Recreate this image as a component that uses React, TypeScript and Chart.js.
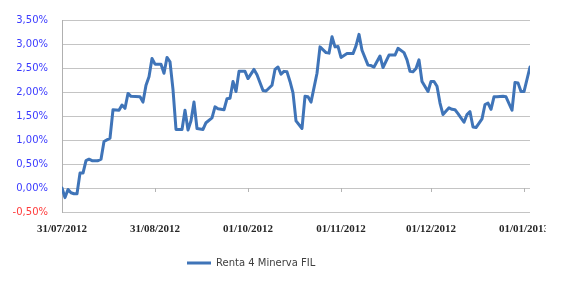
import React, { useEffect, useRef } from 'react';
import { Chart, registerables } from 'chart.js';

Chart.register(...registerables);

const seriesLabel = 'Renta 4 Minerva FIL';

const dates = [
  '31/07/2012', '01/08/2012', '02/08/2012', '03/08/2012', '04/08/2012', '05/08/2012', '06/08/2012',
  '07/08/2012', '08/08/2012', '09/08/2012', '10/08/2012', '12/08/2012', '13/08/2012', '14/08/2012',
  '16/08/2012', '17/08/2012', '19/08/2012', '20/08/2012', '21/08/2012', '22/08/2012', '23/08/2012',
  '26/08/2012', '27/08/2012', '28/08/2012', '29/08/2012', '30/08/2012', '31/08/2012',
  '02/09/2012', '03/09/2012', '04/09/2012', '05/09/2012', '06/09/2012', '07/09/2012', '09/09/2012',
  '10/09/2012', '11/09/2012', '12/09/2012', '13/09/2012', '14/09/2012', '16/09/2012', '17/09/2012',
  '19/09/2012', '20/09/2012', '21/09/2012', '23/09/2012', '24/09/2012', '25/09/2012', '26/09/2012',
  '27/09/2012', '28/09/2012', '30/09/2012',
  '01/10/2012', '03/10/2012', '04/10/2012', '06/10/2012', '07/10/2012', '09/10/2012', '10/10/2012',
  '11/10/2012', '12/10/2012', '13/10/2012', '14/10/2012', '15/10/2012', '16/10/2012', '17/10/2012',
  '19/10/2012', '20/10/2012', '21/10/2012', '22/10/2012', '24/10/2012', '25/10/2012', '27/10/2012',
  '28/10/2012', '29/10/2012', '30/10/2012', '31/10/2012',
  '01/11/2012', '03/11/2012', '05/11/2012', '06/11/2012', '07/11/2012', '08/11/2012', '10/11/2012',
  '11/11/2012', '12/11/2012', '14/11/2012', '15/11/2012', '17/11/2012', '19/11/2012', '20/11/2012',
  '22/11/2012', '23/11/2012', '24/11/2012', '25/11/2012', '26/11/2012', '27/11/2012', '28/11/2012',
  '30/11/2012',
  '01/12/2012', '02/12/2012', '03/12/2012', '04/12/2012', '05/12/2012', '07/12/2012', '08/12/2012',
  '09/12/2012', '10/12/2012', '12/12/2012', '13/12/2012', '14/12/2012', '15/12/2012', '16/12/2012',
  '18/12/2012', '19/12/2012', '20/12/2012', '21/12/2012', '22/12/2012', '23/12/2012', '25/12/2012',
  '26/12/2012', '28/12/2012', '29/12/2012', '30/12/2012', '31/12/2012',
  '01/01/2013', '03/01/2013',
];

const values = [
  0.0, -0.2, -0.03, -0.1, -0.12, -0.12, 0.31,
  0.31, 0.57, 0.6, 0.57, 0.57, 0.6, 0.97,
  1.04, 1.63, 1.62, 1.73, 1.66, 1.97, 1.91,
  1.9, 1.79, 2.14, 2.32, 2.7, 2.58,
  2.58, 2.39, 2.72, 2.63, 2.05, 1.22, 1.22,
  1.62, 1.21, 1.4, 1.79, 1.24, 1.22, 1.36,
  1.46, 1.69, 1.65, 1.63, 1.86, 1.87, 2.22,
  2.01, 2.43, 2.43,
  2.28, 2.47, 2.36, 2.03, 2.02, 2.14, 2.47,
  2.52, 2.37, 2.43, 2.42, 2.22, 1.98, 1.4,
  1.24, 1.91, 1.9, 1.79, 2.39, 2.94, 2.82,
  2.81, 3.15, 2.94, 2.95,
  2.72, 2.8, 2.8, 2.96, 3.2, 2.87, 2.56,
  2.55, 2.52, 2.75, 2.51, 2.77, 2.77, 2.91,
  2.82, 2.67, 2.43, 2.42, 2.49, 2.67, 2.22,
  2.01,
  2.22, 2.22, 2.12, 1.77, 1.53, 1.67, 1.64,
  1.63, 1.55, 1.37, 1.53, 1.59, 1.27, 1.26,
  1.44, 1.74, 1.77, 1.64, 1.9, 1.9, 1.91,
  1.9, 1.62, 2.2, 2.19, 2.01,
  2.01, 2.52,
];

const tickDates = ['31/07/2012', '31/08/2012', '01/10/2012', '01/11/2012', '01/12/2012', '01/01/2013'];
const axisStartDate = '31/07/2012';
const axisEndDate = '03/01/2013';
const yMin = -0.5;
const yMax = 3.5;
const yStep = 0.5;

function toUTC(s: string): number {
  const [d, m, y] = s.split('/').map(Number);
  return Date.UTC(y, m - 1, d);
}
function dayIndex(s: string): number {
  return Math.round((toUTC(s) - toUTC(axisStartDate)) / 86400000);
}

const tickDays = tickDates.map(dayIndex);

export default function App() {
  const ref = useRef<HTMLCanvasElement | null>(null);

  useEffect(() => {
    const canvas = ref.current;
    if (!canvas) return;

    const zeroTicks = {
      id: 'zeroTicks',
      beforeDatasetsDraw(chart: any) {
        const { ctx, scales } = chart;
        const xs = scales.x;
        const ys = scales.y;
        const y0 = Math.round(ys.getPixelForValue(0));
        ctx.save();
        ctx.strokeStyle = '#b4b4b4';
        ctx.lineWidth = 1;
        tickDays.forEach((d) => {
          const px = Math.round(xs.getPixelForValue(d)) + 0.5;
          ctx.beginPath();
          ctx.moveTo(px, y0);
          ctx.lineTo(px, y0 + 4);
          ctx.stroke();
        });
        ctx.restore();
      },
    };

    const legendShift = {
      id: 'legendShift',
      afterLayout(chart: any) {
        const lg = chart.legend;
        if (!lg || !lg.lineWidths) return;
        const pad = lg.options.labels.padding;
        const x0 = 187;
        lg.left = x0 - pad;
        lg.right = x0 + lg.lineWidths[0];
      },
    };

    const chart = new Chart(canvas, {
      type: 'line',
      data: {
        datasets: [
          {
            label: seriesLabel,
            data: dates.map((d, i) => ({ x: dayIndex(d), y: values[i] })),
            borderColor: '#3f74b8',
            backgroundColor: '#3f74b8',
            borderWidth: 3,
            pointRadius: 0,
            tension: 0,
            borderJoinStyle: 'round',
            borderCapStyle: 'round',
          },
        ],
      },
      options: {
        animation: false,
        responsive: false,
        maintainAspectRatio: false,
        layout: { padding: { top: 13, left: 0, right: 36, bottom: 9 } },
        plugins: {
          tooltip: { enabled: false },
          legend: {
            position: 'bottom',
            labels: {
              usePointStyle: true,
              pointStyle: 'line',
              pointStyleWidth: 24,
              padding: 10,
              color: '#404040',
              font: { family: '"DejaVu Sans", sans-serif', size: 10 },
            },
          },
        },
        scales: {
          x: {
            type: 'linear',
            min: 0,
            max: dayIndex(axisEndDate),
            afterBuildTicks: (scale: any) => {
              scale.ticks = tickDays.map((v) => ({ value: v }));
            },
            afterFit: (scale: any) => {
              scale.height = 36;
            },
            grid: { display: false, drawTicks: false },
            border: { display: false },
            ticks: {
              autoSkip: false,
              maxRotation: 0,
              minRotation: 0,
              padding: 11,
              color: '#262626',
              font: { family: '"Liberation Serif", serif', size: 11, weight: 'bold' },
              callback: (_v: any, i: number) => tickDates[i],
            },
          },
          y: {
            min: yMin,
            max: yMax,
            afterFit: (scale: any) => {
              scale.width = 62;
            },
            grid: { color: '#c4c4c4', lineWidth: 1, drawTicks: false },
            border: { display: true, color: '#b0b0b0', width: 1 },
            ticks: {
              stepSize: yStep,
              padding: 14,
              font: { family: '"DejaVu Sans", sans-serif', size: 10 },
              color: (ctx: any) => (ctx.tick && ctx.tick.value < 0 ? '#ff3b3b' : '#3b3bff'),
              callback: (v: any) => Number(v).toFixed(2).replace('.', ',') + '%',
            },
          },
        },
      },
      plugins: [zeroTicks, legendShift],
    } as any);

    return () => chart.destroy();
  }, []);

  return (
    <div
      style={{
        position: 'absolute',
        left: 0,
        top: 0,
        width: 546,
        height: 287,
        overflow: 'hidden',
        background: '#ffffff',
      }}
    >
      <canvas ref={ref} width={566} height={287} style={{ display: 'block', width: 566, height: 287 }} />
    </div>
  );
}
